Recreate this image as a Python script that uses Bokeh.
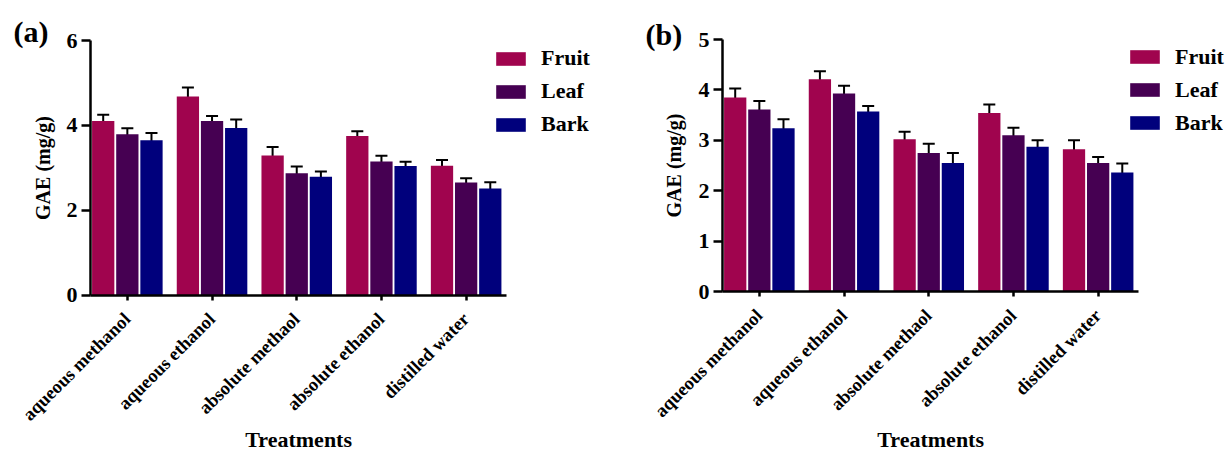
import math
from bokeh.plotting import figure
from bokeh.models import (ColumnDataSource, FixedTicker, Whisker, TeeHead, Legend,
                          LegendItem, Range1d, Label)
from bokeh.transform import dodge
from bokeh.layouts import row
from bokeh.embed import file_html
from bokeh.resources import INLINE

# ---------------- data ----------------
categories = ["aqueous methanol", "aqueous ethanol", "absolute methaol",
              "absolute ethanol", "distilled water"]
series = ["Fruit", "Leaf", "Bark"]
colors = ["#A0044E", "#460052", "#00007C"]

# panel (a)
fruit_a = [4.10, 4.68, 3.29, 3.75, 3.05]
leaf_a = [3.79, 4.10, 2.87, 3.15, 2.65]
bark_a = [3.65, 3.94, 2.79, 3.04, 2.51]
fruit_a_err = [0.15, 0.21, 0.20, 0.11, 0.13]
leaf_a_err = [0.14, 0.12, 0.16, 0.13, 0.10]
bark_a_err = [0.17, 0.20, 0.12, 0.10, 0.15]
yticks_a = [0, 2, 4, 6]

# panel (b)
fruit_b = [3.85, 4.21, 3.02, 3.54, 2.82]
leaf_b = [3.61, 3.93, 2.75, 3.10, 2.55]
bark_b = [3.24, 3.57, 2.55, 2.87, 2.36]
fruit_b_err = [0.18, 0.16, 0.15, 0.17, 0.18]
leaf_b_err = [0.17, 0.15, 0.18, 0.15, 0.12]
bark_b_err = [0.18, 0.11, 0.20, 0.13, 0.18]
yticks_b = [0, 1, 2, 3, 4, 5]

FONT = "Liberation Serif"
BAR_W = 0.263
OFFSETS = [-0.285, 0.0, 0.285]
X_START, X_AXIS_END = -0.435, 4.48
PX_PER_CAT = 84.7
AXIS_LEFT_PX = 90


def make_panel(tag, vals, errs, yticks, width, height, top_px, zero_px,
               legend_xy, tag_xy, title_y, ylab_standoff):
    # the frame covers the whole canvas; axes are pinned with fixed_location
    x0 = X_START - AXIS_LEFT_PX / PX_PER_CAT
    x1 = x0 + width / PX_PER_CAT
    y_top = yticks[-1]
    ppu = (zero_px - top_px) / y_top
    y0 = -(height - zero_px) / ppu
    y1 = y_top + top_px / ppu
    p = figure(width=width, height=height, output_backend="svg", toolbar_location=None,
               x_range=Range1d(x0, x1), y_range=Range1d(y0, y1),
               min_border_left=0, min_border_right=0, min_border_top=0,
               min_border_bottom=0, title=None)
    p.outline_line_color = None
    p.xgrid.visible = False
    p.ygrid.visible = False
    p.background_fill_color = "white"
    p.border_fill_color = "white"

    x = list(range(len(categories)))
    items = []
    for name, v, e, col, off in zip(series, vals, errs, colors, OFFSETS):
        src = ColumnDataSource(dict(x=x, top=v,
                                    upper=[a + b for a, b in zip(v, e)],
                                    lower=[a - b for a, b in zip(v, e)]))
        r = p.vbar(x=dodge("x", off), top="top", bottom=0, width=BAR_W, source=src,
                   fill_color=col, line_color=None)
        items.append(LegendItem(label=name, renderers=[r]))
        w = Whisker(source=src, base=dodge("x", off), upper="upper", lower="lower",
                    dimension="height", line_width=2, line_color="black",
                    upper_head=TeeHead(size=12, line_width=2, line_color="black"),
                    lower_head=TeeHead(size=12, line_width=2, line_color="black"))
        p.add_layout(w)

    # x axis (drawn at y = 0)
    xa = p.xaxis[0]
    xa.fixed_location = 0
    xa.bounds = (X_START, X_AXIS_END)
    xa.ticker = FixedTicker(ticks=x)
    xa.major_label_overrides = {i: c for i, c in enumerate(categories)}
    xa.major_label_orientation = math.pi / 4
    xa.major_label_text_font = FONT
    xa.major_label_text_font_style = "bold"
    xa.major_label_text_font_size = "18.5px"
    xa.major_label_text_color = "black"
    xa.major_label_standoff = 16
    xa.axis_line_width = 2.5
    xa.axis_line_color = "black"
    xa.major_tick_line_width = 2.5
    xa.major_tick_line_color = "black"
    xa.major_tick_out = 5
    xa.major_tick_in = 0
    xa.minor_tick_line_color = None

    # y axis (drawn at the left end of the category axis)
    ya = p.yaxis[0]
    ya.fixed_location = X_START
    ya.bounds = (0, y_top)
    ya.ticker = FixedTicker(ticks=yticks)
    ya.major_label_text_font = FONT
    ya.major_label_text_font_style = "bold"
    ya.major_label_text_font_size = "22px"
    ya.major_label_text_color = "black"
    ya.major_label_standoff = 4
    ya.axis_line_width = 2.5
    ya.axis_line_color = "black"
    ya.major_tick_line_width = 2.5
    ya.major_tick_line_color = "black"
    ya.major_tick_out = 9
    ya.major_tick_in = 0
    ya.minor_tick_line_color = None
    ya.axis_label = "GAE (mg/g)"
    ya.axis_label_text_font = FONT
    ya.axis_label_text_font_style = "bold"
    ya.axis_label_text_font_size = "20px"
    ya.axis_label_text_color = "black"
    ya.axis_label_standoff = ylab_standoff

    # x axis title
    axis_mid_px = AXIS_LEFT_PX + (X_AXIS_END - X_START) * PX_PER_CAT / 2
    p.add_layout(Label(x=axis_mid_px, y=title_y, x_units="screen", y_units="screen",
                       text="Treatments", text_align="center", text_baseline="middle",
                       text_font=FONT, text_font_style="bold", text_font_size="22px",
                       text_color="black"))
    # panel tag
    p.add_layout(Label(x=tag_xy[0], y=tag_xy[1], x_units="screen", y_units="screen",
                       text=tag, text_align="left", text_baseline="middle",
                       text_font=FONT, text_font_style="bold", text_font_size="30px",
                       text_color="black"))

    legend = Legend(items=items, location=legend_xy, padding=0, margin=0,
                    spacing=7, glyph_width=37, glyph_height=17, label_height=26,
                    label_standoff=12, border_line_color=None, background_fill_alpha=0,
                    label_text_font=FONT, label_text_font_style="bold",
                    label_text_font_size="22px", label_text_color="black")
    p.add_layout(legend)
    return p


pa = make_panel("(a)", [fruit_a, leaf_a, bark_a], [fruit_a_err, leaf_a_err, bark_a_err],
                yticks_a, 632, 452, top_px=40, zero_px=294.5,
                legend_xy=(492, 314.7), tag_xy=(13, 421), title_y=13.5, ylab_standoff=10)
pb = make_panel("(b)", [fruit_b, leaf_b, bark_b], [fruit_b_err, leaf_b_err, bark_b_err],
                yticks_b, 595, 452, top_px=39, zero_px=291,
                legend_xy=(494, 316.5), tag_xy=(13, 418), title_y=13.5, ylab_standoff=11)

layout = row(pa, pb)
open("out.html", "w").write(file_html(layout, INLINE))
